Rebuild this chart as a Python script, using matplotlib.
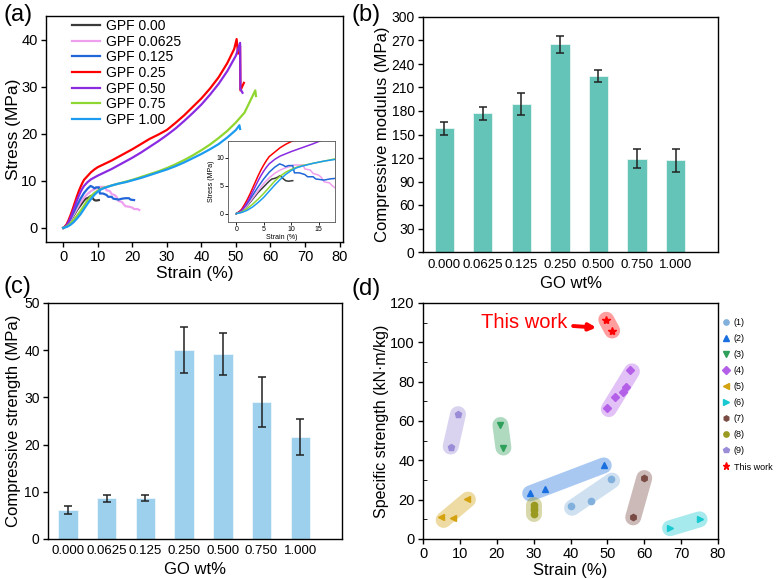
import numpy as np
import matplotlib
matplotlib.use("Agg")
import matplotlib.pyplot as plt
from matplotlib.ticker import MultipleLocator

plt.rcParams['font.family'] = ['Liberation Sans', 'DejaVu Sans']

# ---- (a) stress-strain curves ----
labels_a = ['GPF 0.00', 'GPF 0.0625', 'GPF 0.125', 'GPF 0.25', 'GPF 0.50', 'GPF 0.75', 'GPF 1.00']
colors_a = ['#3a3a3a', '#ee9fee', '#2166d9', '#ff0000', '#8a2be2', '#8fd630', '#1c9cf0']

strain_000 = [0, 1, 2, 3, 4, 5, 5.5, 6, 6.5, 7, 7.5, 8, 8.5, 9, 9.5, 10.3]
stress_000 = [0, 0.5, 1.4, 2.6, 3.8, 4.8, 5.3, 5.8, 6.2, 6.3, 6.5, 6.8, 6.3, 5.9, 5.8, 5.9]

strain_0625 = [0, 1, 2, 3, 4, 5, 6, 7, 8, 9, 10, 10.5, 12.2, 12.5, 13.5, 14, 15, 15.5, 16, 17,
               17.5, 18, 19, 20, 20.5, 21.5, 22]
stress_0625 = [0, 0.5, 1.5, 2.8, 4.1, 5.4, 6.4, 7.2, 7.8, 8.2, 8.5, 8.7, 8.7, 8.0, 7.8, 7.2, 6.9, 6.5, 5.7, 5.5,
               5.0, 4.6, 4.5, 4.3, 4.0, 4.0, 3.8]

strain_0125 = [0, 1, 2, 3, 4, 5, 6, 7, 7.9, 8.5, 9, 9.5, 10.3, 10.6, 11.5, 12.5, 13, 14, 14.5, 15.3,
               16, 17, 18, 19, 19.5, 20.5]
stress_0125 = [0, 0.6, 1.8, 3.3, 4.8, 6.2, 7.4, 8.3, 8.9, 8.7, 8.4, 8.6, 8.6, 7.3, 7.3, 7.0, 6.6, 6.6, 6.2, 6.1,
               6.0, 6.2, 6.3, 6.3, 6.0, 5.9]

strain_025 = [0, 0.5, 1, 1.5, 2, 2.5, 3, 3.5, 4, 4.5, 5, 5.5, 6, 7, 8, 9, 10, 12, 14, 16, 18, 20, 22.5, 25,
              27.5, 30, 32.5, 35, 37.5, 40, 42.5, 45, 47.5, 49.5, 50.2, 50.6, 51.2, 51.3, 52.3]
stress_025 = [0, 0.3, 0.8, 1.6, 2.5, 3.5, 4.6, 5.7, 6.8, 7.8, 8.7, 9.5, 10.2, 11.0, 11.8, 12.4, 12.9, 13.6, 14.3,
              15.1, 15.9, 16.7, 17.8, 18.9, 19.8, 20.8, 22.3, 23.9, 25.7, 27.5, 29.6, 32.0, 35.0, 38.0, 40.1,
              37.0, 38.6, 29.2, 30.8]

strain_050 = [0, 0.5, 1, 1.5, 2, 2.5, 3, 3.5, 4, 4.5, 5, 5.5, 6, 7, 8, 9, 10, 12, 14, 16, 18, 20, 22.5, 25,
              27.5, 30, 32.5, 35, 37.5, 40, 42.5, 45, 47.5, 50, 51.2, 51.3, 51.9]
stress_050 = [0, 0.2, 0.6, 1.2, 2.0, 2.9, 3.9, 4.9, 5.9, 6.8, 7.6, 8.3, 8.9, 9.7, 10.3, 10.7, 11.1, 11.8, 12.5,
              13.3, 14.1, 14.9, 16.0, 17.2, 18.4, 19.7, 21.1, 22.7, 24.4, 26.2, 28.3, 30.6, 33.3, 36.6, 39.3,
              29.5, 28.7]

strain_075 = [0, 1, 2, 3, 4, 5, 6, 7, 8, 9, 10, 11, 12, 14, 16, 18, 20, 22.5, 25, 27.5, 30, 32.5, 35, 37.5,
              40, 42.5, 45, 47.5, 50, 52.5, 55.6, 55.8]
stress_075 = [0, 0.3, 0.9, 1.7, 2.6, 3.6, 4.7, 5.8, 6.7, 7.4, 7.9, 8.3, 8.6, 9.0, 9.4, 9.8, 10.2, 10.8, 11.4,
              12.0, 12.7, 13.5, 14.4, 15.4, 16.5, 17.7, 19.1, 20.6, 22.4, 24.5, 29.2, 28.0]

strain_100 = [0, 1, 2, 3, 4, 5, 6, 7, 8, 9, 10, 11, 12, 14, 16, 18, 20, 22.5, 25, 27.5, 30, 32.5, 35, 37.5,
              40, 42.5, 45, 47.5, 50, 51, 51.2]
stress_100 = [0, 0.2, 0.6, 1.2, 2.0, 2.9, 4.0, 5.1, 6.1, 7.0, 7.7, 8.2, 8.5, 9.0, 9.4, 9.7, 10.1, 10.6, 11.2,
              11.8, 12.4, 13.1, 13.9, 14.8, 15.7, 16.7, 17.8, 19.2, 20.8, 21.8, 21.0]

curves_a = [(strain_000, stress_000), (strain_0625, stress_0625), (strain_0125, stress_0125),
            (strain_025, stress_025), (strain_050, stress_050), (strain_075, stress_075),
            (strain_100, stress_100)]

# ---- (b), (c) bar charts ----
go_labels = ['0.000', '0.0625', '0.125', '0.250', '0.500', '0.750', '1.000']
modulus = [158, 177, 189, 265, 225, 119, 117]
modulus_err = [8, 8.5, 14, 10.5, 7.5, 12, 14.5]
strength = [6.2, 8.6, 8.7, 40.1, 39.2, 29.0, 21.6]
strength_err = [0.8, 0.8, 0.6, 4.9, 4.5, 5.3, 3.9]

# ---- (d) specific strength vs strain ----
groups_d = ['(1)', '(2)', '(3)', '(4)', '(5)', '(6)', '(7)', '(8)', '(9)', 'This work']
markers_d = ['o', '^', 'v', 'D', '<', '>', 'h', 'o', 'p', '*']
colors_d = ['#82b0dc', '#1a6fdf', '#2ea05a', '#b35fe8', '#d4a20f', '#17c9d0', '#7a4b45', '#9a9a20',
            '#9b8cd8', '#ff0000']
strain_d = [[40, 45.5, 51], [29, 33, 49], [21, 21.8], [50, 52, 54.2, 55, 56], [5, 8, 12], [67, 75],
            [57, 60], [30, 30, 30, 30], [7.5, 9.5], [49.7, 51.3]]
spec_d = [[17, 19.5, 30.5], [23.5, 25.5, 37.5], [58, 46.5], [66.5, 72, 75, 77.5, 86], [11, 10.5, 20.5],
          [5.5, 10], [11, 31], [12.5, 14.5, 16, 17.5], [47, 63.5], [111.5, 106]]

W, H = 777, 579
fig = plt.figure(figsize=(W / 100, H / 100), dpi=100)


def px_axes(l, t, r, b):
    return fig.add_axes([l / W, 1 - b / H, (r - l) / W, (b - t) / H])


def style(ax, fs=10):
    ax.tick_params(direction='out', length=3.5, width=1, labelsize=fs, pad=2.5)
    for s in ax.spines.values():
        s.set_linewidth(1)


# (a)
ax = px_axes(46, 16, 343, 242)
for (x, y), c, lab in zip(curves_a, colors_a, labels_a):
    ax.plot(x, y, color=c, lw=1.6, label=lab)
ax.set_xlim(-5, 81)
ax.set_ylim(-3, 45)
ax.set_xticks(range(0, 81, 10))
ax.set_yticks(range(0, 41, 10))
ax.set_xlabel('Strain (%)', fontsize=12.5, labelpad=1)
ax.set_ylabel('Stress (MPa)', fontsize=12.5, labelpad=0)
style(ax, 10.5)
ax.legend(loc='upper left', bbox_to_anchor=(0.055, 1.03), frameon=False, fontsize=10,
          handlelength=2.0, handletextpad=0.45, labelspacing=0.12, borderpad=0.2)

ins = px_axes(228, 141, 335, 222)
for (x, y), c in zip(curves_a, colors_a):
    ins.plot(x, y, color=c, lw=1.1)
ins.set_xlim(-1.5, 18)
ins.set_ylim(-1.5, 13)
ins.set_xticks([0, 5, 10, 15])
ins.set_yticks([0, 5, 10])
ins.tick_params(direction='out', length=2, width=0.6, labelsize=5, pad=1)
ins.set_xlabel('Strain (%)', fontsize=5, labelpad=0.5)
ins.set_ylabel('Stress (MPa)', fontsize=5, labelpad=0.5)
for s in ins.spines.values():
    s.set_linewidth(0.6)
    s.set_color('#555555')

# (b)
bx = px_axes(423, 17, 718, 252)
xpos = np.arange(len(go_labels))
bx.bar(xpos, modulus, width=0.5, color='#64c4b7', edgecolor='#e8f6f3', linewidth=0.6)
bx.errorbar(xpos, modulus, yerr=modulus_err, fmt='none', ecolor='#222222', elinewidth=1.1,
            capsize=3, capthick=1.1)
bx.set_xlim(-0.55, 7.1)
bx.set_ylim(0, 300)
bx.set_yticks(range(0, 301, 30))
bx.set_xticks(xpos)
bx.set_xticklabels(go_labels)
bx.set_xlabel('GO wt%', fontsize=12, labelpad=4)
bx.set_ylabel('Compressive modulus (MPa)', fontsize=12, labelpad=1)
style(bx, 10)
bx.tick_params(axis='x', length=0, pad=5, labelsize=9.5)

# (c)
cx = px_axes(48, 303, 342, 539)
cx.bar(xpos, strength, width=0.5, color='#9dd0ec', edgecolor='#eef7fc', linewidth=0.6)
cx.errorbar(xpos, strength, yerr=strength_err, fmt='none', ecolor='#222222', elinewidth=1.1,
            capsize=3, capthick=1.1)
cx.set_xlim(-0.52, 7.08)
cx.set_ylim(0, 50)
cx.set_yticks(range(0, 51, 10))
cx.set_xticks(xpos)
cx.set_xticklabels(go_labels)
cx.set_xlabel('GO wt%', fontsize=12, labelpad=4)
cx.set_ylabel('Compressive strength (MPa)', fontsize=12, labelpad=2)
style(cx, 10)
cx.tick_params(axis='x', length=0, pad=4, labelsize=9.5)

# (d)
dx = px_axes(423, 303, 718, 539)
yscale = 80 / 120 * (236 / 295)
for xs, ys, m, c, lab in zip(strain_d, spec_d, markers_d, colors_d, groups_d):
    pts = np.column_stack([xs, np.array(ys) * yscale])
    ctr = pts.mean(axis=0)
    _, _, vt = np.linalg.svd(pts - ctr)
    d = vt[0]
    proj = (pts - ctr) @ d
    ends = np.array([ctr + proj.min() * d, ctr + proj.max() * d])
    dx.plot(ends[:, 0], ends[:, 1] / yscale, color=c, alpha=0.38, lw=11.5,
            solid_capstyle='round', zorder=1)
    ms = 6 if m == '*' else 4.5
    dx.plot(xs, ys, ls='none', marker=m, ms=ms, color=c, mec=c, label=lab, zorder=3)
dx.set_xlim(0, 80)
dx.set_ylim(0, 120)
dx.set_xticks(range(0, 81, 10))
dx.set_yticks(range(0, 121, 20))
dx.yaxis.set_minor_locator(MultipleLocator(10))
style(dx, 10.5)
dx.tick_params(axis='y', which='minor', direction='in', length=3)
dx.set_xlabel('Strain (%)', fontsize=12, labelpad=1)
dx.set_ylabel('Specific strength (kN\u00b7m/kg)', fontsize=11.5, labelpad=1)
dx.annotate('This work', xy=(47, 107.5), xytext=(27.5, 110), color='red', fontsize=14.5,
            ha='center', va='center',
            arrowprops=dict(arrowstyle='-|>', color='red', lw=2.8, mutation_scale=10,
                            shrinkA=2, shrinkB=0))
dx.legend(loc='upper left', bbox_to_anchor=(1.0, 0.955), frameon=False, fontsize=6.5,
          handlelength=0.8, handletextpad=0.45, labelspacing=0.78, borderpad=0.2,
          markerscale=0.85, borderaxespad=0.3)

for lab, x, y in [('(a)', 18, 15), ('(b)', 366, 15), ('(c)', 17, 287), ('(d)', 366, 289)]:
    fig.text(x / W, 1 - y / H, lab, fontsize=17, ha='center', va='center')

fig.savefig('out.png', dpi=100)
